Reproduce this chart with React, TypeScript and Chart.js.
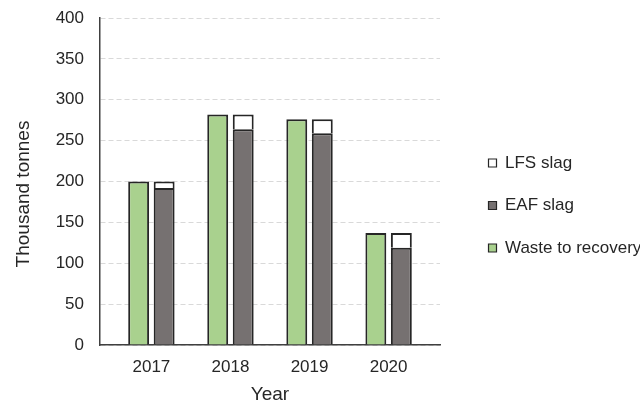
import { useEffect, useRef } from "react";
import { Chart, registerables } from "chart.js";

Chart.register(...registerables);

const years = ["2017", "2018", "2019", "2020"];
const wasteToRecovery = [200, 282, 276, 137];
const eafSlag = [192, 264, 259, 119];
const lfsSlag = [8, 18, 17, 18];
const yTickStep = 50;
const yMax = 400;
const yTitle = "Thousand tonnes";
const xTitle = "Year";

const FONT = "'Liberation Sans', Arial, sans-serif";
const TEXT = "#262626";
const EDGE = "#262626";

const layoutTweaks = {
  id: "layoutTweaks",
  afterInit(chart: any) {
    const lg = chart.legend;
    if (!lg) return;
    const orig = lg.fit.bind(lg);
    lg.fit = () => {
      orig();
      lg.width = 200;
    };
  },
  afterLayout(chart: any) {
    const lg = chart.legend;
    if (!lg) return;
    const w = lg.width;
    const h = lg.height;
    lg.left = 463;
    lg.right = lg.left + w;
    lg.top = 129;
    lg.bottom = lg.top + h;
  },
  afterDraw(chart: any) {
    const ctx = chart.ctx;
    ctx.save();
    ctx.translate(24, 194);
    ctx.rotate(-Math.PI / 2);
    ctx.textAlign = "center";
    ctx.textBaseline = "middle";
    ctx.fillStyle = TEXT;
    ctx.font = `19px ${FONT}`;
    ctx.fillText(yTitle, 0, 0);
    ctx.restore();
  },
};

export default function App() {
  const ref = useRef<HTMLCanvasElement>(null);

  useEffect(() => {
    if (!ref.current) return;
    const toPts = (arr: number[]) => arr.map((v, i) => ({ x: i, y: v }));
    const chart = new Chart(ref.current, {
      type: "bar",
      data: {
        datasets: [
          {
            label: "Waste to recovery",
            data: toPts(wasteToRecovery),
            backgroundColor: "#a9d18e",
            borderColor: EDGE,
            borderWidth: 2,
            stack: "a",
          },
          {
            label: "EAF slag",
            data: toPts(eafSlag),
            backgroundColor: "#767171",
            borderColor: EDGE,
            borderWidth: 2,
            stack: "b",
          },
          {
            label: "LFS slag",
            data: toPts(lfsSlag),
            backgroundColor: "#ffffff",
            borderColor: EDGE,
            borderWidth: 2,
            stack: "b",
          },
        ],
      } as any,
      options: {
        responsive: false,
        animation: false,
        categoryPercentage: 0.645,
        barPercentage: 0.82,
        layout: { padding: { top: 18, left: 0, right: 0, bottom: 0 } },
        plugins: {
          tooltip: { enabled: false },
          legend: {
            position: "right",
            align: "start",
            reverse: true,
            labels: {
              boxWidth: 8,
              boxHeight: 8,
              padding: 25.5,
              color: TEXT,
              font: { family: FONT, size: 17 },
              generateLabels: (c: any) =>
                Chart.defaults.plugins.legend.labels
                  .generateLabels(c)
                  .map((it: any) => ({ ...it, lineWidth: 1.2, strokeStyle: EDGE })),
            },
          },
        },
        scales: {
          x: {
            type: "linear",
            min: -0.65,
            max: 3.65,
            offset: false,
            stacked: true,
            afterBuildTicks: (s: any) => {
              s.ticks = years.map((_, i) => ({ value: i }));
            },
            afterFit: (s: any) => {
              s.height = 61;
              s.paddingLeft = 0;
              s.paddingRight = 0;
            },
            grid: { display: false, drawTicks: false },
            border: { display: true, color: "#404040", width: 1.5 },
            ticks: {
              autoSkip: false,
              padding: 12,
              color: TEXT,
              font: { family: FONT, size: 17 },
              callback: (v: any) => years[v] ?? "",
            },
            title: {
              display: true,
              text: xTitle,
              color: TEXT,
              font: { family: FONT, size: 19 },
              padding: { top: 0, bottom: 0 },
            },
          },
          y: {
            stacked: true,
            min: 0,
            max: yMax,
            afterFit: (s: any) => {
              s.width = 100;
              s.paddingTop = 0;
              s.paddingBottom = 0;
            },
            grid: { color: "#d9d9d9", lineWidth: 1, drawTicks: false },
            border: { display: true, color: "#404040", width: 1.5, dash: [5, 3] },
            ticks: {
              stepSize: yTickStep,
              padding: 16,
              color: TEXT,
              font: { family: FONT, size: 17 },
            },
          },
        },
      } as any,
      plugins: [layoutTweaks],
    });
    return () => chart.destroy();
  }, []);

  return (
    <div style={{ position: "absolute", left: 0, top: 0, width: 640, height: 406, background: "#fff" }}>
      <canvas ref={ref} width={640} height={406} />
    </div>
  );
}
